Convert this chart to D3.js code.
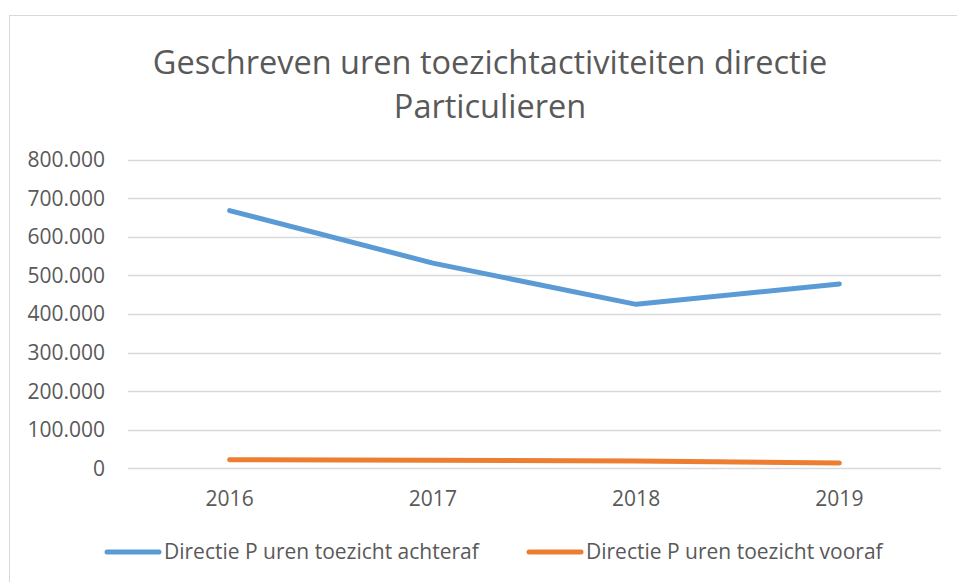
<!DOCTYPE html>
<html>
<head>
<meta charset="utf-8">
<script src="https://cdn.jsdelivr.net/npm/d3@7"></script>
<style>
  body { margin: 0; background: #fff; }
  svg text { font-family: "Open Sans", sans-serif; fill: #595959; }
</style>
</head>
<body>
<div class="chart"></div>
<script>
var width = 957
var height = 582
var years = ["2016", "2017", "2018", "2019"];
var achteraf = [668000, 532000, 425000, 478000];
var vooraf = [22000, 21000, 19000, 14000];
var seriesNames = ["Directie P uren toezicht achteraf", "Directie P uren toezicht vooraf"];
var seriesColors = ["#5b9bd5", "#ed7d31"];
var yTicks = [0, 100000, 200000, 300000, 400000, 500000, 600000, 700000, 800000];
var titleLines = ["Geschreven uren toezichtactiviteiten directie", "Particulieren"];

var nl = d3.formatLocale({ decimal: ",", thousands: ".", grouping: [3], currency: ["€", ""] });
var fmt = nl.format(",");

var svg = d3.select(".chart").append("svg")
    .attr("width", width)
    .attr("height", height);

// chart border (runs off the right and bottom edge)
svg.append("rect")
    .attr("x", 9.5).attr("y", 15.5)
    .attr("width", 1000).attr("height", 700)
    .attr("fill", "#fff")
    .attr("stroke", "#d9d9d9");

// title
svg.selectAll(".title")
    .data(titleLines)
  .enter().append("text")
    .attr("class", "title")
    .attr("x", 490)
    .attr("y", function(d, i) { return 74 + i * 44; })
    .attr("text-anchor", "middle")
    .style("font-size", "32.5px")
    .text(function(d) { return d; });

var x = d3.scalePoint()
    .domain(years)
    .range([128, 941])
    .padding(0.5);

var y = d3.scaleLinear()
    .domain([0, 800000])
    .range([468.3, 159.7]);

// grid
svg.append("g")
    .selectAll("line")
    .data(yTicks)
  .enter().append("line")
    .attr("x1", 128).attr("x2", 941)
    .attr("y1", function(d) { return Math.round(y(d)) + 0.5; })
    .attr("y2", function(d) { return Math.round(y(d)) + 0.5; })
    .attr("stroke", "#d9d9d9")
    .attr("stroke-width", 1.3);

// y labels
svg.append("g")
    .selectAll("text")
    .data(yTicks)
  .enter().append("text")
    .attr("x", 105)
    .attr("y", function(d) { return y(d); })
    .attr("dy", "0.35em")
    .attr("text-anchor", "end")
    .style("font-size", "21px")
    .text(function(d) { return fmt(d); });

// x labels
svg.append("g")
    .selectAll("text")
    .data(years)
  .enter().append("text")
    .attr("x", function(d) { return x(d); })
    .attr("y", 499)
    .attr("dy", "0.35em")
    .attr("text-anchor", "middle")
    .style("font-size", "21px")
    .text(function(d) { return d; });

var line = d3.line()
    .x(function(d, i) { return x(years[i]); })
    .y(function(d) { return y(d); });

svg.append("g")
    .selectAll("path")
    .data([achteraf, vooraf])
  .enter().append("path")
    .attr("d", line)
    .attr("fill", "none")
    .attr("stroke", function(d, i) { return seriesColors[i]; })
    .attr("stroke-width", 5)
    .attr("stroke-linecap", "round")
    .attr("stroke-linejoin", "round");

// legend
var legendX = [105, 527];
var legend = svg.append("g")
    .selectAll("g")
    .data(seriesNames)
  .enter().append("g")
    .attr("transform", function(d, i) { return "translate(" + legendX[i] + ",552)"; });

legend.append("line")
    .attr("x1", 2).attr("x2", 54)
    .attr("stroke", function(d, i) { return seriesColors[i]; })
    .attr("stroke-width", 5)
    .attr("stroke-linecap", "round");

legend.append("text")
    .attr("x", 59)
    .attr("dy", "0.35em")
    .style("font-size", "21px")
    .text(function(d) { return d; });
</script>
</body>
</html>
